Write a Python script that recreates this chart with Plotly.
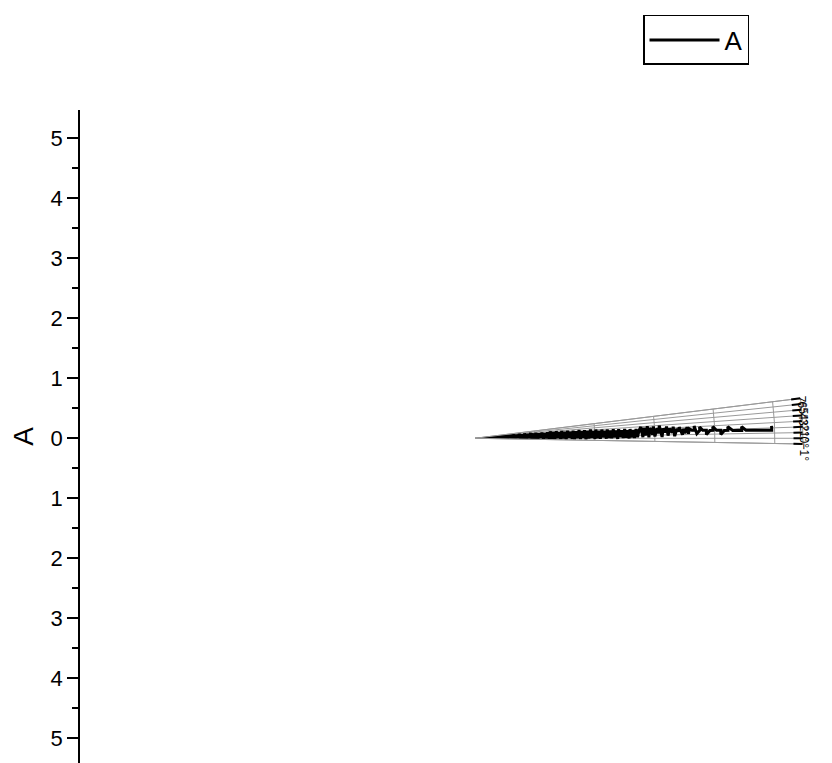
import plotly.graph_objects as go

# Column A (radius) and its angle (degrees)
r_inner = [0.00, 0.02, 0.05, 0.07, 0.10, 0.12, 0.14, 0.17, 0.19, 0.22, 0.24, 0.26, 0.29, 0.31,
           0.33, 0.36, 0.38, 0.40, 0.43, 0.45, 0.48, 0.50, 0.52, 0.55, 0.57, 0.60, 0.62, 0.64,
           0.67, 0.69, 0.71, 0.74, 0.76, 0.78, 0.81, 0.83, 0.86, 0.88, 0.90, 0.93, 0.95, 0.98,
           1.00, 1.02, 1.05, 1.07, 1.09, 1.12, 1.14, 1.17, 1.19, 1.21, 1.24, 1.26, 1.28, 1.31,
           1.33, 1.36, 1.38, 1.40, 1.43, 1.45, 1.47, 1.50, 1.52, 1.55, 1.57, 1.59, 1.62, 1.64,
           1.66, 1.69, 1.71, 1.74, 1.76, 1.78, 1.81, 1.83, 1.85, 1.88, 1.90, 1.93, 1.95, 1.97,
           2.00, 2.02, 2.04, 2.07, 2.09, 2.12, 2.14, 2.16, 2.19, 2.21, 2.23, 2.26, 2.28, 2.31,
           2.33, 2.35, 2.38, 2.40, 2.42, 2.45, 2.47, 2.50, 2.52, 2.54, 2.57, 2.59, 2.62, 2.64,
           2.66, 2.69, 2.71, 2.74]
theta_inner = [0.0, 6.8, -0.8, 6.5, -0.6, 6.9, -0.9, 6.2, -0.4, 6.7, -0.7, 5.9, -0.5, 6.6,
               -0.8, 6.1, -0.3, 6.8, -0.6, 5.8, -0.9, 6.4, -0.2, 6.0, -0.7, 5.5, -0.4, 6.3,
               -0.8, 5.2, -0.1, 5.9, -0.6, 4.8, -0.3, 5.6, -0.9, 5.0, 0.1, 5.4, -0.5, 4.6,
               -0.2, 5.1, -0.7, 4.4, 0.2, 4.9, -0.4, 4.2, 0.0, 4.7, -0.6, 5.3, -0.2, 4.5,
               -0.8, 5.0, 0.1, 4.3, -0.5, 4.8, -0.1, 4.1, -0.7, 4.6, 0.2, 4.0, -0.3, 4.4,
               -0.6, 3.9, 0.0, 4.5, -0.4, 3.8, 0.3, 4.2, -0.5, 3.7, -0.1, 4.3, 0.2, 3.6,
               -0.3, 4.1, 0.1, 3.5, -0.2, 3.9, 0.4, 3.4, -0.1, 3.8, 0.2, 3.3, 0.0, 3.7,
               0.3, 3.2, -0.2, 3.6, 0.4, 3.1, 0.1, 3.5, 0.2, 3.0, 0.0, 3.4, 0.3, 2.9,
               0.1, 3.3, 0.4, 2.8]

r_middle = [2.77, 2.80, 2.82, 2.84, 2.88, 2.90, 2.92, 2.96, 2.98, 3.00, 3.04, 3.06, 3.08, 3.12,
            3.14, 3.17, 3.20, 3.22, 3.25, 3.29, 3.31, 3.33, 3.37, 3.39, 3.41, 3.46, 3.48, 3.50,
            3.54, 3.56, 3.58]
theta_middle = [3.9, 0.4, 3.6, 1.0, 4.0, 0.3, 3.4, 1.2, 3.8, 0.6, 3.2, 1.5, 3.9, 0.4,
                3.0, 1.8, 3.5, 0.8, 2.9, 1.6, 3.3, 0.6, 2.7, 1.9, 3.1, 1.0, 2.6, 1.4,
                3.0, 1.2, 2.5]

r_outer = [3.62, 3.66, 3.66, 3.70, 3.75, 3.75, 3.80, 3.86, 3.86, 3.92, 3.97, 3.97, 4.03, 4.10, 4.10,
           4.16, 4.22, 4.22, 4.30, 4.38, 4.45, 4.45, 4.52, 4.60, 4.68, 4.75, 4.82, 4.88, 4.95, 4.95]
theta_outer = [2.1, 2.1, 3.2, 1.2, 2.0, 2.9, 2.0, 2.0, 0.9, 1.9, 1.9, 2.8, 1.9, 1.85, 0.9,
               1.8, 1.8, 2.6, 1.75, 1.75, 1.7, 2.5, 1.7, 1.65, 1.62, 1.6, 1.58, 1.56, 1.55, 2.4]

y_tick_vals = [-5, -4, -3, -2, -1, 0, 1, 2, 3, 4, 5]
y_tick_text = ["5", "4", "3", "2", "1", "0", "1", "2", "3", "4", "5"]

r_values = r_inner + r_middle + r_outer
theta_values = theta_inner + theta_middle + theta_outer

FONT = "Arial, Liberation Sans, sans-serif"

fig = go.Figure()

# dummy trace to show the left (radial) scale axis
fig.add_trace(go.Scatter(x=[0.5], y=[0], mode="markers", marker=dict(opacity=0),
                         showlegend=False, hoverinfo="skip"))

fig.add_trace(go.Scatterpolar(r=r_values, theta=theta_values, mode="lines", name="A",
                              line=dict(color="black", width=3)))

fig.update_layout(
    width=832, height=763,
    margin=dict(l=72, r=12, t=102, b=8, autoexpand=False),
    paper_bgcolor="white", plot_bgcolor="white",
    font=dict(family=FONT, color="black"),
    xaxis=dict(visible=False, range=[0, 1]),
    yaxis=dict(range=[-5.42, 5.47], tickvals=y_tick_vals, ticktext=y_tick_text,
               automargin=False,
               ticks="outside", ticklen=11, tickwidth=1.5, tickcolor="black",
               minor=dict(dtick=0.5, ticks="outside", ticklen=6, tickwidth=1.5, tickcolor="black"),
               showline=True, linecolor="black", linewidth=1.5, showgrid=False, zeroline=False,
               tickfont=dict(size=22, family=FONT),
               title=dict(text="A", font=dict(size=28, family=FONT), standoff=13)),
    polar=dict(
        domain=dict(x=[0.5281, 0.9666], y=[0.447, 0.600]),
        sector=[-1, 7],
        bgcolor="white",
        radialaxis=dict(range=[0, 5.47], dtick=1, showticklabels=False, showline=False,
                        ticks="", gridcolor="#9a9a9a", gridwidth=1),
        angularaxis=dict(thetaunit="degrees", dtick=1, tick0=0, rotation=0,
                         direction="counterclockwise", showline=True, linecolor="#9a9a9a",
                         linewidth=1, ticks="inside", ticklen=9, tickwidth=1.5, tickcolor="black",
                         gridcolor="#9a9a9a", gridwidth=1, tickangle=90,
                         tickfont=dict(size=12, family=FONT, color="black")),
    ),
    legend=dict(x=0.7527, y=1.1455, xanchor="left", yanchor="top", bordercolor="black",
                borderwidth=1.5, bgcolor="white", itemwidth=70,
                font=dict(size=26, family=FONT)),
)

fig.write_html("out.html")
